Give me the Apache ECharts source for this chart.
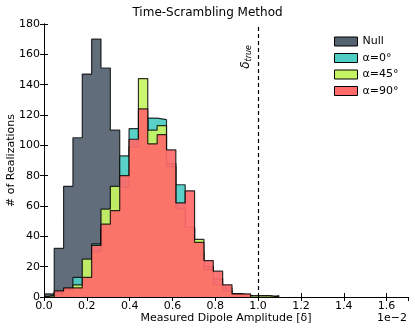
<!DOCTYPE html>
<html>
<head>
<meta charset="utf-8">
<script src="https://cdn.jsdelivr.net/npm/echarts@6/dist/echarts.min.js"></script>
<style>
  html, body { margin: 0; padding: 0; background: #fff; }
  #chart { width: 415px; height: 331px; }
</style>
</head>
<body>
<div id="chart"></div>
<script>
// histogram bins (units of 1e-2)
const binStart = 0.004;
const binWidth = 0.0437;

// counts per bin
const nullCounts = [2, 32, 73, 105, 147, 170, 151, 110, 76, 50, 30, 20, 12, 8, 5, 3, 2, 1, 1, 0, 0, 0, 1, 1, 0];
const alpha0Counts = [1, 3, 5, 13, 12, 35, 45, 55, 93, 111, 110, 118, 117, 88, 74, 45, 30, 20, 12, 6, 2, 1, 0, 0, 1];
const alpha45Counts = [1, 2, 5, 8, 25, 30, 58, 73, 72, 99, 144, 110, 113, 86, 58, 46, 38, 18, 8, 4, 2, 1, 1, 1, 0];
const alpha90Counts = [0, 4, 6, 6, 13, 34, 48, 57, 80, 104, 124, 101, 107, 97, 62, 70, 36, 24, 17, 8, 2, 2, 0, 0, 0];

const seriesNames = ['Null', 'α=0°', 'α=45°', 'α=90°'];
const seriesColors = ['#556270', '#4ECDC4', '#C7F464', '#FF6B6B'];
const yTicks = [0, 20, 40, 60, 80, 100, 120, 140, 160, 180];
const deltaTrue = 1.0;

// turn counts into a step outline: [left edge, 0], [edge_k, c_k] ..., [last edge, 0]
function stepData(counts) {
  const pts = [[binStart, 0]];
  counts.forEach((c, k) => {
    pts.push([binStart + k * binWidth, c]);
  });
  pts.push([binStart + counts.length * binWidth, 0]);
  return pts;
}

const allCounts = [nullCounts, alpha0Counts, alpha45Counts, alpha90Counts];
const font = 'DejaVu Sans';

// each series gets its own z so a later fill covers earlier outlines
const series = allCounts.map((counts, i) => {
  return {
    name: seriesNames[i],
    type: 'line',
    z: 2 + i,
    step: 'end',
    symbol: 'none',
    color: seriesColors[i],
    lineStyle: { color: '#000', width: 1.2, opacity: 0.8 },
    areaStyle: { color: seriesColors[i], opacity: 0.93 },
    data: stepData(counts)
  };
});

// dashed line for the true amplitude, drawn bottom to top so the label reads upward
series[3].markLine = {
  silent: true,
  symbol: 'none',
  lineStyle: { color: '#000', type: [4, 3], width: 1.2, opacity: 1 },
  label: {
    show: true,
    position: 'insideEndTop',
    distance: 5,
    padding: [0, 16, 0, 0],
    formatter: '{d|δ}{s|true}',
    rich: {
      d: { fontFamily: font, fontStyle: 'italic', fontSize: 12, lineHeight: 15, color: '#000' },
      s: { fontFamily: font, fontStyle: 'italic', fontSize: 8, lineHeight: 15, verticalAlign: 'bottom', color: '#000' }
    }
  },
  data: [[
    { coord: [deltaTrue, yTicks[0]] },
    { coord: [deltaTrue, yTicks[yTicks.length - 1]] }
  ]]
};

const tickStyle = { inside: true, length: 4, lineStyle: { color: '#000', width: 1 } };
const lineStyle = { lineStyle: { color: '#000', width: 1 } };

const option = {
  animation: false,
  title: {
    text: 'Time-Scrambling Method',
    left: 'center',
    top: 2,
    textStyle: { fontFamily: font, fontSize: 12, fontWeight: 'normal', color: '#000' }
  },
  legend: {
    data: seriesNames,
    orient: 'vertical',
    left: 329,
    top: 31,
    icon: 'rect',
    itemWidth: 23,
    itemHeight: 9,
    itemGap: 5.5,
    itemStyle: { borderColor: '#000', borderWidth: 1 },
    textStyle: { fontFamily: font, fontSize: 11, color: '#000' }
  },
  grid: { left: 44, right: 7, top: 24, bottom: 34, outerBoundsMode: 'none' },
  xAxis: [
    {
      type: 'value',
      min: 0,
      max: 1.7,
      interval: 0.2,
      name: 'Measured Dipole Amplitude [δ]',
      nameLocation: 'middle',
      nameGap: 16,
      nameMoveOverlap: false,
      nameTextStyle: { fontFamily: font, fontSize: 11, color: '#000' },
      axisLine: lineStyle,
      axisTick: tickStyle,
      splitLine: { show: false },
      axisLabel: {
        fontFamily: font, fontSize: 11, color: '#000', margin: 4,
        showMaxLabel: false,
        formatter: v => v.toFixed(1)
      }
    },
    {
      type: 'value',
      position: 'top',
      min: 0,
      max: 1.7,
      interval: 0.2,
      axisLine: lineStyle,
      axisTick: tickStyle,
      axisLabel: { show: false },
      splitLine: { show: false }
    }
  ],
  yAxis: [
    {
      type: 'value',
      min: yTicks[0],
      max: yTicks[yTicks.length - 1],
      interval: yTicks[1] - yTicks[0],
      name: '# of Realizations',
      nameLocation: 'middle',
      nameGap: 27,
      nameMoveOverlap: false,
      nameTextStyle: { fontFamily: font, fontSize: 11, color: '#000' },
      axisLine: { show: true, lineStyle: { color: '#000', width: 1 } },
      axisTick: Object.assign({ show: true }, tickStyle),
      splitLine: { show: false },
      axisLabel: { fontFamily: font, fontSize: 11, color: '#000', margin: 4 }
    },
    {
      type: 'value',
      position: 'right',
      min: yTicks[0],
      max: yTicks[yTicks.length - 1],
      interval: yTicks[1] - yTicks[0],
      axisLine: { show: true, lineStyle: { color: '#000', width: 1 } },
      axisTick: Object.assign({ show: true }, tickStyle),
      axisLabel: { show: false },
      splitLine: { show: false }
    }
  ],
  graphic: [
    {
      type: 'text',
      right: 8,
      top: 313,
      style: { text: '1e−2', fontFamily: font, fontSize: 11, fill: '#000' }
    }
  ],
  series: series
};

const myChart = echarts.init(document.getElementById('chart'));
myChart.setOption(option);
</script>
</body>
</html>
